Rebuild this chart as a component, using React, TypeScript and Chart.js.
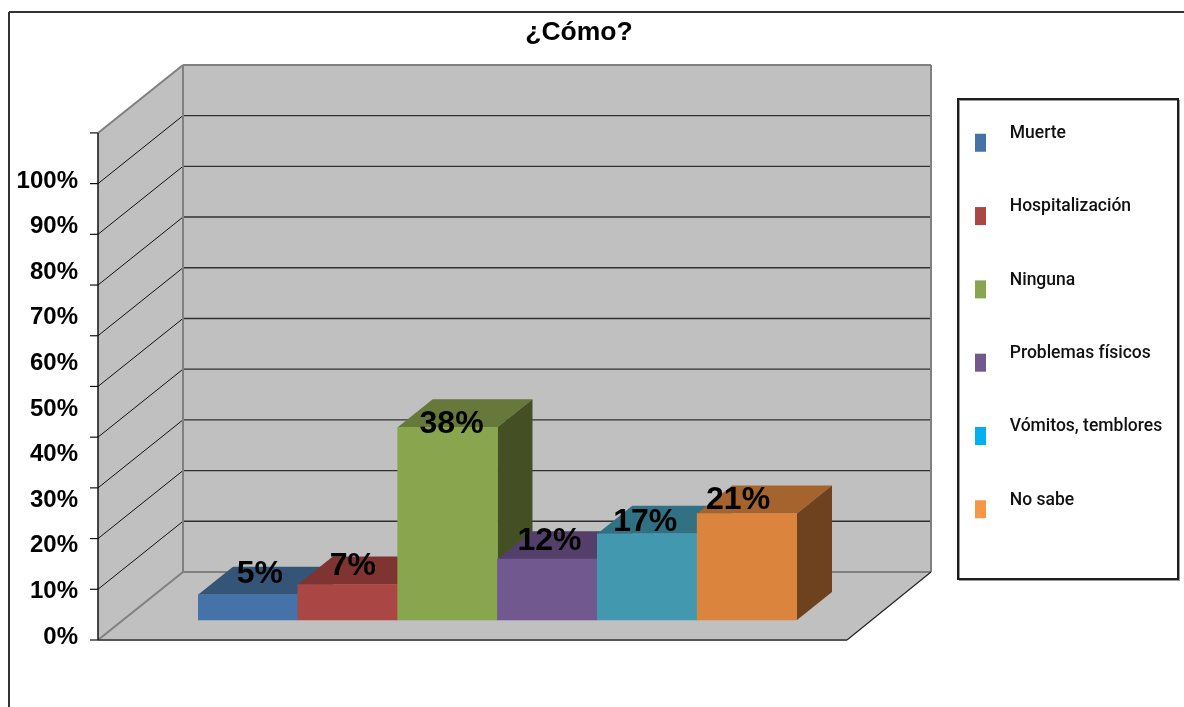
import React, { useEffect, useRef } from "react";
import { Chart, registerables } from "chart.js";

Chart.register(...registerables);

const categories = ["Muerte", "Hospitalización", "Ninguna", "Problemas físicos", "Vómitos, temblores", "No sabe"];
const values = [5, 7, 38, 12, 17, 21];
const tickValues = [0, 10, 20, 30, 40, 50, 60, 70, 80, 90, 100];
const tickLabels = ["0%", "10%", "20%", "30%", "40%", "50%", "60%", "70%", "80%", "90%", "100%"];
const chartTitle = "¿Cómo?";

const frontColors = ["#4572A7", "#AA4643", "#89A54E", "#71588F", "#4198AF", "#DB843D"];
const topColors = ["#345578", "#7F3432", "#66793A", "#543F6B", "#307283", "#A5632E"];
const sideColors = ["#2B4668", "#662B29", "#445024", "#43325A", "#275D6C", "#6E421E"];
const markerColors = ["#4572A7", "#AA4643", "#89A54E", "#71588F", "#00B0F0", "#F79646"];
const labelNudgeX = [12, 5, 4, 2, -2, -9];
const labelNudgeY = [-22, -20, -5, -20, -14, -15];

const FONT = "'Liberation Sans', Arial, sans-serif";
const WALL = "#C0C0C0";
const EDGE = "#808080";
const DEPTH_X = 85;
const DEPTH_Y = 68;
const BAR_DX = 35;
const BAR_DY = 28;
const FLOOR_DROP = 20;
const FLOOR_LEFT = 98;
const FLOOR_RIGHT = 847;
const PX_PER_UNIT = 5.07;

function markerCanvas(color: string) {
  const c = document.createElement("canvas");
  c.width = 26;
  c.height = 42;
  const g = c.getContext("2d")!;
  g.fillStyle = color;
  g.fillRect(0, 21, 11, 18);
  return c;
}

function poly(ctx: CanvasRenderingContext2D, pts: number[][], fill: string) {
  ctx.beginPath();
  pts.forEach((p, i) => (i ? ctx.lineTo(p[0], p[1]) : ctx.moveTo(p[0], p[1])));
  ctx.closePath();
  ctx.fillStyle = fill;
  ctx.fill();
}

function seg(ctx: CanvasRenderingContext2D, x0: number, y0: number, x1: number, y1: number, color: string, w: number) {
  ctx.beginPath();
  ctx.moveTo(x0, y0);
  ctx.lineTo(x1, y1);
  ctx.strokeStyle = color;
  ctx.lineWidth = w;
  ctx.stroke();
}

const scenePlugin = {
  id: "scene3d",
  afterLayout(chart: any) {
    const lg = chart.legend;
    const pad = lg.options.labels.padding;
    lg.left = 975 - pad;
    lg.right = lg.left + lg.width;
    lg.top = 125 - pad;
    lg.bottom = lg.top + lg.height;
    chart.titleBlock.left = 0;
    chart.titleBlock.right = 1158;
  },
  beforeDraw(chart: any) {
    const ctx: CanvasRenderingContext2D = chart.ctx;
    ctx.save();
    ctx.lineCap = "butt";
    seg(ctx, 9, 12, 1184, 12, "#333333", 2);
    seg(ctx, 9, 12, 9, 707, "#333333", 2);
    ctx.strokeStyle = "#9a9a9a";
    ctx.lineWidth = 1;
    ctx.strokeRect(959.5, 100.5, 220, 480);
    ctx.strokeStyle = "#1c1c1c";
    ctx.lineWidth = 2;
    ctx.strokeRect(958, 99, 220, 480);
    ctx.restore();
  },
  beforeDatasetsDraw(chart: any) {
    const ctx: CanvasRenderingContext2D = chart.ctx;
    const y = chart.scales.y;
    const frontY = (v: number) => y.getPixelForValue(v) + FLOOR_DROP;
    const y0 = frontY(0);
    const yTop = frontY(100);
    const bx0 = FLOOR_LEFT + DEPTH_X;
    const bx1 = FLOOR_RIGHT + DEPTH_X - 1;

    ctx.save();
    poly(ctx, [[FLOOR_LEFT, yTop], [bx0, yTop - DEPTH_Y], [bx1, yTop - DEPTH_Y], [bx1, y0 - DEPTH_Y], [FLOOR_RIGHT, y0], [FLOOR_LEFT, y0]], WALL);

    tickValues.forEach((v) => {
      const p = frontY(v);
      seg(ctx, 90, p, FLOOR_LEFT, p, "#111111", 1.2);
      if (v > 0 && v < 100) {
        seg(ctx, FLOOR_LEFT, p, bx0, p - DEPTH_Y, "#111111", 1);
        seg(ctx, bx0, p - DEPTH_Y, bx1, p - DEPTH_Y, "#303030", 1.4);
      }
    });

    seg(ctx, bx0, yTop - DEPTH_Y, bx1, yTop - DEPTH_Y, EDGE, 2);
    seg(ctx, FLOOR_LEFT, yTop, bx0, yTop - DEPTH_Y, EDGE, 2);
    seg(ctx, bx0, yTop - DEPTH_Y, bx0, y0 - DEPTH_Y, EDGE, 2);
    seg(ctx, bx1, yTop - DEPTH_Y, bx1, y0 - DEPTH_Y, EDGE, 2);
    seg(ctx, bx0, y0 - DEPTH_Y, bx1, y0 - DEPTH_Y, EDGE, 2);
    seg(ctx, FLOOR_LEFT, y0, bx0, y0 - DEPTH_Y, EDGE, 2);
    seg(ctx, FLOOR_RIGHT, y0, bx1, y0 - DEPTH_Y, "#222222", 1.2);
    seg(ctx, FLOOR_LEFT, y0, FLOOR_RIGHT, y0, "#555555", 2);
    seg(ctx, FLOOR_LEFT, yTop, FLOOR_LEFT, y0, "#111111", 1.5);

    chart.getDatasetMeta(0).data.forEach((bar: any, i: number) => {
      const l = bar.x - bar.width / 2;
      const r = bar.x + bar.width / 2;
      poly(ctx, [[l, bar.y], [r, bar.y], [r + BAR_DX, bar.y - BAR_DY], [l + BAR_DX, bar.y - BAR_DY]], topColors[i]);
      poly(ctx, [[r, bar.y], [r + BAR_DX, bar.y - BAR_DY], [r + BAR_DX, bar.base - BAR_DY], [r, bar.base]], sideColors[i]);
    });
    ctx.restore();
  },
  afterDatasetsDraw(chart: any) {
    const ctx: CanvasRenderingContext2D = chart.ctx;
    ctx.save();
    ctx.font = `bold 32px ${FONT}`;
    ctx.fillStyle = "#000000";
    ctx.textAlign = "center";
    ctx.textBaseline = "middle";
    chart.getDatasetMeta(0).data.forEach((bar: any, i: number) => {
      ctx.fillText(`${values[i]}%`, bar.x + labelNudgeX[i], bar.y + labelNudgeY[i] + 2);
    });
    ctx.restore();
  },
};

export default function App() {
  const ref = useRef<HTMLCanvasElement>(null);
  useEffect(() => {
    const chart = new Chart(ref.current!, {
      type: "bar",
      plugins: [scenePlugin as any],
      data: {
        labels: categories,
        datasets: [
          {
            data: values,
            backgroundColor: frontColors,
            borderWidth: 0,
            barPercentage: 1,
            categoryPercentage: 1,
            yAxisID: "y",
          },
        ],
      },
      options: {
        responsive: false,
        animation: false,
        devicePixelRatio: 1,
        layout: { padding: { left: 0, right: 387, top: 0, bottom: 67 } },
        scales: {
          x: { display: false },
          y: {
            display: false,
            min: -FLOOR_DROP / PX_PER_UNIT,
            max: 555 / PX_PER_UNIT,
          },
          yLabels: {
            position: "left",
            min: -3 / 4.56,
            max: 572 / 4.56,
            grid: { display: false, drawTicks: false },
            border: { display: false },
            afterBuildTicks: (s: any) => {
              s.ticks = tickValues.map((value) => ({ value }));
            },
            afterFit: (s: any) => {
              s.width = 198;
              s.paddingTop = 0;
              s.paddingBottom = 0;
            },
            ticks: {
              padding: 120,
              autoSkip: false,
              color: "#000000",
              font: { family: FONT, size: 24, weight: "bold" },
              callback: (v: any) => tickLabels[tickValues.indexOf(Number(v))],
            },
          },
        } as any,
        plugins: {
          tooltip: { enabled: false },
          title: {
            display: true,
            text: chartTitle,
            color: "#000000",
            font: { family: FONT, size: 26.5, weight: "bold", lineHeight: 1.2 },
            padding: { top: 17.1, bottom: 16 },
          },
          legend: {
            position: "chartArea",
            align: "start",
            labels: {
              padding: 55.8,
              usePointStyle: true,
              pointStyleWidth: 26,
              color: "#111111",
              font: { family: "Roboto, 'Liberation Sans', sans-serif", size: 17.5, weight: "500" },
              generateLabels: () =>
                categories.map((text, i) => ({
                  text,
                  fontColor: "#111111",
                  pointStyle: markerCanvas(markerColors[i]),
                  fillStyle: markerColors[i],
                  strokeStyle: markerColors[i],
                  lineWidth: 0,
                  hidden: false,
                  index: i,
                })),
            },
          } as any,
        },
      },
    });
    return () => chart.destroy();
  }, []);
  return (
    <div style={{ position: "absolute", left: 0, top: 0, width: 1184, height: 707, background: "#ffffff" }}>
      <canvas ref={ref} width={1184} height={707} style={{ display: "block" }} />
    </div>
  );
}
